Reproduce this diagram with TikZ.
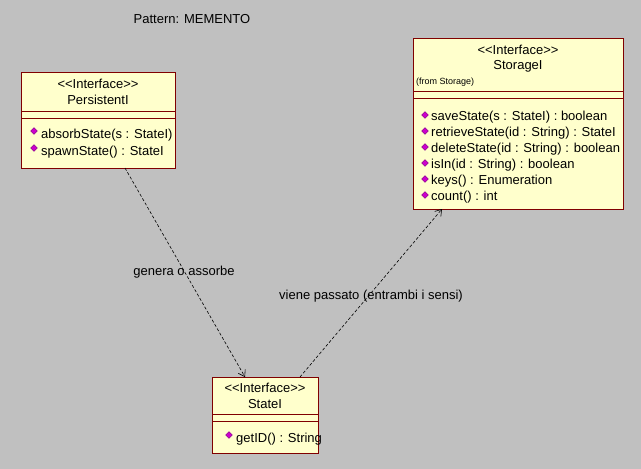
\documentclass[tikz,border=0pt]{standalone}
\usepackage{fontspec}
\setmainfont{Liberation Sans}[Ligatures=NoCommon]
\usetikzlibrary{shapes.geometric,arrows.meta}
\definecolor{bg}{HTML}{C0C0C0}
\definecolor{boxfill}{HTML}{FFFFCC}
\definecolor{boxline}{HTML}{800000}
\definecolor{mag}{HTML}{CC00CC}
\newcommand{\ster}[1]{{<}{<}#1{>}{>}}
\begin{document}
\begin{tikzpicture}[x=1pt,y=-1pt,
  box/.style={draw=boxline,fill=boxfill,line width=0.8pt},
  sep/.style={draw=boxline,line width=0.8pt},
  txt/.style={font=\fontsize{13}{15}\selectfont,inner sep=0pt},
  mtxt/.style={txt,anchor=west},
  small/.style={font=\fontsize{9}{11}\selectfont,inner sep=0pt,anchor=west},
  dia/.style={diamond,fill=mag,draw=mag!60!black,line width=0.3pt,inner sep=0pt,minimum width=7pt,minimum height=7pt},
  dep/.style={densely dashed,line width=0.6pt,-{Straight Barb[length=6pt,width=8pt]}}]
\fill[bg] (0,0) rectangle (641,469);
\node[txt] (title) at (192,19) {Pattern: MEMENTO};
% StorageI
\draw[box] (413,38) rectangle (623,209);
\coordinate (sb) at (442,209);
\draw[sep] (413,91) -- (623,91); \draw[sep] (413,98) -- (623,98);
\node[txt] (s1) at (518,50) {\ster{Interface}};
\node[txt] (s2) at (518,66) {StorageI};
\node[small] (s3) at (416,82) {(from Storage)};
\foreach \t [count=\i] in {saveState(s : StateI) : boolean,retrieveState(id : String) : StateI,deleteState(id : String) : boolean,isIn(id : String) : boolean,keys() : Enumeration,count() : int}{
  \node[dia] (sd\i) at (425,{99+16*\i}) {};
  \node[mtxt] (sm\i) at (431,{101+16*\i}) {\t};
}
% PersistentI
\draw[box] (21,72) rectangle (175,168);
\draw[sep] (21,111) -- (175,111); \draw[sep] (21,118) -- (175,118);
\node[txt] (p1) at (98,84) {\ster{Interface}};
\node[txt] (p2) at (98,100) {PersistentI};
\node[dia] (pd1) at (34,131) {};
\node[mtxt] (pm1) at (41,135) {absorbState(s : StateI)};
\node[dia] (pd2) at (34,148) {};
\node[mtxt] (pm2) at (41,152) {spawnState() : StateI};
% StateI
\draw[box] (212,377) rectangle (318,453);
\draw[sep] (212,414) -- (318,414); \draw[sep] (212,421) -- (318,421);
\node[txt] (t1) at (265,388) {\ster{Interface}};
\node[txt] (t2) at (265,404) {StateI};
\node[dia] (td1) at (229,435) {};
\node[mtxt] (tm1) at (236,439) {getID() : String};
% connectors
\coordinate (pa) at (125,168);
\coordinate (ta) at (245,377);
\coordinate (tb) at (300,377);
\draw[dep] (pa) -- (ta);
\draw[dep] (tb) -- (sb);
\node[txt] (l1) at (184,272) {genera o assorbe};
\node[txt] (l2) at (371,296) {viene passato (entrambi i sensi)};
\end{tikzpicture}
\end{document}
